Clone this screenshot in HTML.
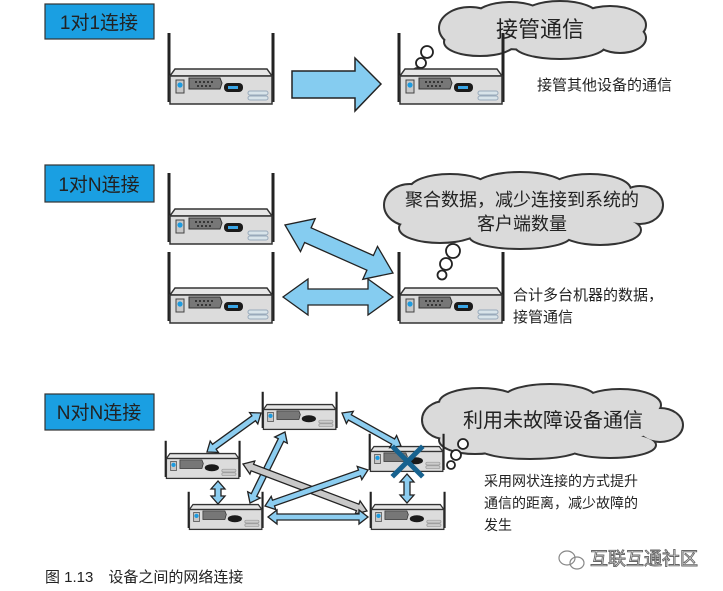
<!DOCTYPE html>
<html><head><meta charset="utf-8"><style>
html,body{margin:0;padding:0;background:#fff;}
svg{display:block;}
text{font-family:"Liberation Sans","Noto Sans CJK SC",sans-serif;fill:#222;}
</style></head><body>
<svg id="s" width="723" height="591" viewBox="0 0 723 591" xmlns="http://www.w3.org/2000/svg">
<defs>
<g id="rb">
 <line x1="1" y1="0" x2="1" y2="69" stroke="#222" stroke-width="3"/>
 <line x1="105" y1="0" x2="105" y2="69" stroke="#222" stroke-width="3"/>
 <polygon points="7,36 99,36 104,43 2,43" fill="#e6e6e6" stroke="#333" stroke-width="1.5"/>
 <rect x="2" y="43" width="102" height="28" fill="#dcdcdc" stroke="#333" stroke-width="1.5"/>
 <rect x="8" y="47" width="8" height="13" fill="#c8c8c8" stroke="#444"/>
 <circle cx="12" cy="52" r="2.6" fill="#1c9be0"/>
 <polygon points="21,45 52,45 54,50 52,56 21,56" fill="#777" stroke="#333"/>
 <g fill="#222"><circle cx="28" cy="49" r="1"/><circle cx="32" cy="49" r="1"/><circle cx="36" cy="49" r="1"/><circle cx="40" cy="49" r="1"/><circle cx="44" cy="49" r="1"/><circle cx="30" cy="53" r="1"/><circle cx="34" cy="53" r="1"/><circle cx="38" cy="53" r="1"/><circle cx="42" cy="53" r="1"/></g>
 <rect x="56" y="50" width="19" height="9" rx="4" fill="#1a1a1a"/>
 <rect x="60" y="53" width="10" height="3" fill="#3aa6e6"/>
 <rect x="80" y="58" width="20" height="4" rx="2" fill="#d8e4ea" stroke="#9ab"/>
 <rect x="80" y="63" width="20" height="4" rx="2" fill="#d8e4ea" stroke="#9ab"/>
</g>
<g id="rs">
 <line x1="1" y1="18" x2="1" y2="69" stroke="#222" stroke-width="3"/>
 <line x1="105" y1="18" x2="105" y2="69" stroke="#222" stroke-width="3"/>
 <polygon points="7,36 99,36 104,43 2,43" fill="#e6e6e6" stroke="#333" stroke-width="1.8"/>
 <rect x="2" y="43" width="102" height="28" fill="#dcdcdc" stroke="#333" stroke-width="1.8"/>
 <rect x="8" y="47" width="8" height="13" fill="#c8c8c8" stroke="#444"/>
 <circle cx="12" cy="52" r="3" fill="#1c9be0"/>
 <polygon points="21,45 52,45 54,50 52,57 21,57" fill="#777" stroke="#333"/>
 <ellipse cx="66" cy="56" rx="10" ry="5" fill="#1a1a1a"/>
 <rect x="80" y="58" width="20" height="4" rx="2" fill="#ccc" stroke="#999"/>
 <rect x="80" y="63" width="20" height="4" rx="2" fill="#ccc" stroke="#999"/>
</g>
</defs>

<!-- labels -->
<rect x="45" y="4" width="109" height="35" fill="#1a9fe2" stroke="#333" stroke-width="1.2"/>
<text x="99" y="29" font-size="19" text-anchor="middle">1对1连接</text>
<rect x="45" y="165" width="109" height="37" fill="#1a9fe2" stroke="#333" stroke-width="1.2"/>
<text x="99" y="191" font-size="19" text-anchor="middle">1对N连接</text>
<rect x="45" y="394" width="109" height="36" fill="#1a9fe2" stroke="#333" stroke-width="1.2"/>
<text x="99" y="419" font-size="19" text-anchor="middle">N对N连接</text>

<!-- clouds -->
<g id="clouds"></g>

<!-- routers -->
<use href="#rb" x="168" y="33"/>
<use href="#rb" x="398" y="33"/>
<use href="#rb" x="168" y="173"/>
<use href="#rb" x="168" y="252"/>
<use href="#rb" x="398" y="252"/>

<g transform="translate(262,379) scale(0.71)"><use href="#rs"/></g>
<g transform="translate(165,428) scale(0.71)"><use href="#rs"/></g>
<g transform="translate(188,479) scale(0.71)"><use href="#rs"/></g>
<g transform="translate(369,421) scale(0.71)"><use href="#rs"/></g>
<g transform="translate(370,479) scale(0.71)"><use href="#rs"/></g>

<!-- big arrow -->
<polygon points="292,71 355,71 355,58 381,84 355,111 355,98 292,98" fill="#85ccf0" stroke="#222" stroke-width="1.5"/>

<g id="arrows"></g>

<!-- X -->
<g stroke="#17628f" stroke-width="5" stroke-linecap="square">
<line x1="394" y1="448" x2="421" y2="475"/><line x1="421" y1="448" x2="394" y2="475"/>
</g>

<text x="540" y="37" font-size="22" text-anchor="middle">接管通信</text>
<text x="537" y="90" font-size="15">接管其他设备的通信</text>
<text x="522" y="206" font-size="18" text-anchor="middle">聚合数据，减少连接到系统的</text>
<text x="522" y="230" font-size="18" text-anchor="middle">客户端数量</text>
<text x="513" y="300" font-size="15">合计多台机器的数据，</text>
<text x="513" y="322" font-size="15">接管通信</text>
<text x="553" y="427" font-size="20" text-anchor="middle">利用未故障设备通信</text>
<text x="484" y="486" font-size="14">采用网状连接的方式提升</text>
<text x="484" y="508" font-size="14">通信的距离，减少故障的</text>
<text x="484" y="530" font-size="14">发生</text>
<text x="45" y="582" font-size="15">图 1.13　设备之间的网络连接</text>
<g stroke="#888" fill="none" stroke-width="1.2"><ellipse cx="567" cy="558" rx="8" ry="7"/><ellipse cx="577" cy="563" rx="7" ry="6"/></g>
<text x="590" y="565" font-size="18" style="fill:#fff;stroke:#666;stroke-width:0.9">互联互通社区</text>
</svg>
<script>
var NS="http://www.w3.org/2000/svg";
function el(p,t,a){var e=document.createElementNS(NS,t);for(var k in a)e.setAttribute(k,a[k]);p.appendChild(e);return e;}
var A=document.getElementById("arrows");
function darrow(x1,y1,x2,y2,w,hw,hl,fill){
 var dx=x2-x1,dy=y2-y1,L=Math.hypot(dx,dy),ux=dx/L,uy=dy/L,nx=-uy,ny=ux;
 function P(t,s){return (x1+ux*t+nx*s).toFixed(1)+","+(y1+uy*t+ny*s).toFixed(1);}
 var pts=[P(0,0),P(hl,hw),P(hl,w),P(L-hl,w),P(L-hl,hw),P(L,0),P(L-hl,-hw),P(L-hl,-w),P(hl,-w),P(hl,-hw)];
 el(A,"polygon",{points:pts.join(" "),fill:fill,stroke:"#222","stroke-width":1.3});
}
darrow(285,225,393,273,8,18,25,"#85ccf0");
darrow(283,297,393,297,8,18,25,"#85ccf0");
var b="#8ccdf0";
darrow(207,452,261,413,3,7,9,b);
darrow(342,413,401,446,3,7,9,b);
darrow(218,481,218,504,3,7,8,b);
darrow(250,503,285,432,3,7,9,b);
darrow(243,464,367,511,3.5,7,10,"#c8c8c8");
darrow(265,506,368,470,3,7,9,b);
darrow(268,517,368,517,3,7,9,b);
darrow(407,474,407,503,3,7,8,b);
var C=document.getElementById("clouds");
function cloud(cs,bubbles){
 cs.forEach(function(c){el(C,"ellipse",{cx:c[0],cy:c[1],rx:c[2],ry:c[3],fill:"#333",stroke:"#333","stroke-width":4});});
 cs.forEach(function(c){el(C,"ellipse",{cx:c[0],cy:c[1],rx:c[2],ry:c[3],fill:"#dadada"});});
 bubbles.forEach(function(c){el(C,"circle",{cx:c[0],cy:c[1],r:c[2],fill:"#fff",stroke:"#222","stroke-width":1.8});});
}
cloud([[540,31,95,18],[470,28,30,20],[510,18,35,15],[560,17,38,15],[610,25,35,18],[620,38,25,14],[480,42,35,13],[560,45,45,13]],
 [[427,52,6],[421,63,5],[417,72,4]]);
cloud([[522,212,120,26],[410,205,25,20],[450,190,40,15],[520,187,45,14],[590,190,40,15],[640,205,22,18],[600,230,40,14],[520,236,50,12],[440,228,40,14]],
 [[453,251,7],[446,264,6],[442,275,4.5]]);
cloud([[553,422,110,24],[445,420,22,18],[480,403,40,14],[550,398,45,13],[620,405,40,15],[660,425,22,16],[610,445,45,12],[530,448,50,10],[475,440,35,13]],
 [[463,444,5],[456,455,5],[451,465,4]]);
</script>
</body></html>
